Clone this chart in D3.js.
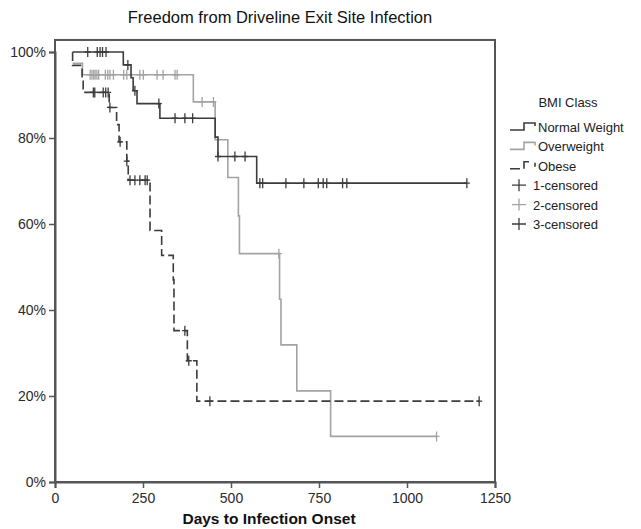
<!DOCTYPE html>
<html lang="en">
<head>
<meta charset="UTF-8">
<title>Freedom from Driveline Exit Site Infection</title>
<style>
  body { margin: 0; background: #fff; }
  svg { font-family: "Liberation Sans", Arial, sans-serif; }
</style>
</head>
<body>
<script src="https://d3js.org/d3.v7.min.js"></script>
<script>
    // Kaplan-Meier curves, values (days, % free of infection)
    var groups = ["Normal Weight", "Overweight", "Obese"];

    var normalDays = [50, 194, 216, 222, 233, 298, 455, 463, 573];
    var normalSurv = [100, 97, 94, 91, 88, 84.6, 80.2, 75.7, 69.5];
    var normalEnd = 1170;
    var normalCensor = [93, 120, 128, 135, 145, 207, 227, 295, 341, 369, 391, 463, 511, 540,
                        582, 590, 656, 707, 748, 762, 772, 817, 829, 1170];

    var overDays = [50, 78, 393, 455, 491, 521, 524, 638, 642, 687, 783];
    var overSurv = [97.4, 94.7, 88.4, 79.6, 70.8, 61.9, 53.1, 42.5, 31.9, 21.2, 10.6];
    var overEnd = 1084;
    var overCensor = [100, 105, 110, 114, 119, 124, 143, 150, 156, 166, 195, 204, 241, 251,
                      290, 307, 341, 347, 418, 450, 636, 1084];

    var obeseDays = [50, 50, 77, 80, 154, 175, 182, 204, 208, 270, 303, 336, 338, 376, 403];
    var obeseSurv = [100, 96.9, 93.8, 90.6, 87.1, 83.1, 79.1, 74.6, 70.2, 58.5, 52.7, 47.0, 35.2, 28.2, 18.8];
    var obeseEnd = 1205;
    var obeseCensor = [109, 113, 137, 144, 151, 156, 185, 204, 213, 227, 241, 256, 262, 369, 380, 440, 1205];

    var xTicks = [0, 250, 500, 750, 1000, 1250];
    var yTicks = [0, 20, 40, 60, 80, 100];
    var legendItems = ["Normal Weight", "Overweight", "Obese", "1-censored", "2-censored", "3-censored"];

    var width = 641,
        height = 529;

    var dark = "#3c3c3c", light = "#a3a3a3", frame = "#555";

    var series = [
        {name: groups[0], days: normalDays, surv: normalSurv, end: normalEnd, censor: normalCensor, color: dark, dash: null},
        {name: groups[1], days: overDays, surv: overSurv, end: overEnd, censor: overCensor, color: light, dash: null},
        {name: groups[2], days: obeseDays, surv: obeseSurv, end: obeseEnd, censor: obeseCensor, color: dark, dash: "9,4"}
    ];

    var svg = d3.select("body").append("svg")
        .attr("width", width)
        .attr("height", height);

    var x = d3.scaleLinear().domain([0, 1250]).range([55, 495]);
    var y = d3.scaleLinear().domain([0, 100]).range([482, 52]);
    var yTop = y(102.8);

    // frame
    svg.append("rect")
        .attr("x", x(0)).attr("y", yTop)
        .attr("width", x(1250) - x(0)).attr("height", y(0) - yTop)
        .attr("fill", "none").attr("stroke", frame).attr("stroke-width", 2);

    var yAxis = svg.append("g")
        .attr("transform", "translate(" + x(0) + ",0)")
        .call(d3.axisLeft(y).tickValues(yTicks).tickSize(6).tickFormat(function(d){ return d + "%"; }));
    var xAxis = svg.append("g")
        .attr("transform", "translate(0," + y(0) + ")")
        .call(d3.axisBottom(x).tickValues(xTicks).tickSize(6).tickFormat(d3.format("d")));

    [yAxis, xAxis].forEach(function(a){
        a.select(".domain").attr("stroke", frame).attr("stroke-width", 2);
        a.selectAll(".tick line").attr("stroke", frame).attr("stroke-width", 1.5);
        a.selectAll(".tick text").attr("fill", "#2a2a2a").style("font-size", "14px")
            .style("font-family", "'Liberation Sans', Arial, sans-serif");
    });
    xAxis.selectAll(".tick text").attr("dy", "0.85em");

    // step curves
    var line = d3.line()
        .x(function(d){ return x(d[0]); })
        .y(function(d){ return y(d[1]); })
        .curve(d3.curveStepAfter);

    function survAt(s, t) {
        var v = s.surv[0];
        for (var i = 0; i < s.days.length; i++) {
            if (s.days[i] <= t) v = s.surv[i];
        }
        return v;
    }

    // draw overweight first so the dark curves sit on top
    [series[1], series[0], series[2]].forEach(function(s){
        var pts = s.days.map(function(d, i){ return [d, s.surv[i]]; });
        pts.push([s.end, s.surv[s.surv.length - 1]]);
        svg.append("path")
            .datum(pts)
            .attr("d", line)
            .attr("fill", "none")
            .attr("stroke", s.color)
            .attr("stroke-width", 1.6)
            .attr("stroke-dasharray", s.dash);

        svg.append("g").selectAll("path")
            .data(s.censor)
            .enter().append("path")
            .attr("d", function(t){
                var cx = x(t), cy = y(survAt(s, t));
                return "M" + cx + "," + (cy - 5) + "V" + (cy + 5) + "M" + (cx - 3) + "," + cy + "H" + (cx + 3);
            })
            .attr("stroke", s.color)
            .attr("stroke-width", 1.3)
            .attr("fill", "none");
    });

    // titles
    svg.append("text")
        .attr("x", 280).attr("y", 23)
        .attr("text-anchor", "middle")
        .style("font-size", "16.5px").attr("fill", "#111")
        .text("Freedom from Driveline Exit Site Infection");

    svg.append("text")
        .attr("x", 269).attr("y", 524)
        .attr("text-anchor", "middle")
        .style("font-size", "15.5px").style("font-weight", "bold").attr("fill", "#111")
        .text("Days to Infection Onset");

    // legend
    var lg = svg.append("g").attr("transform", "translate(508,0)");
    lg.append("text")
        .attr("x", 60).attr("y", 107)
        .attr("text-anchor", "middle")
        .style("font-size", "13px").attr("fill", "#222")
        .text("BMI Class");

    var legY = d3.scalePoint().domain(legendItems).range([127, 224]);

    legendItems.forEach(function(name, i){
        var cy = legY(name);
        var s = series[i % 3];
        if (i < 3) {
            if (i < 2) {
                lg.append("path")
                    .attr("d", "M2," + (cy + 3) + "H16V" + (cy - 4) + "H27V" + (cy - 1))
                    .attr("fill", "none").attr("stroke", s.color).attr("stroke-width", 1.6);
            } else {
                lg.append("path")
                    .attr("d", "M2," + (cy + 3) + "H12M16," + (cy + 3) + "V" + (cy - 4) + "H21M27," + (cy - 3) + "V" + (cy + 1))
                    .attr("fill", "none").attr("stroke", s.color).attr("stroke-width", 1.6);
            }
        } else {
            lg.append("path")
                .attr("d", "M11," + (cy - 6) + "V" + (cy + 6) + "M4," + cy + "H18")
                .attr("fill", "none").attr("stroke", s.color).attr("stroke-width", 1.3);
        }
        lg.append("text")
            .attr("x", i < 3 ? 30 : 25).attr("y", cy + 5)
            .style("font-size", "13px").attr("fill", "#222")
            .text(name);
    });
</script>
</body>
</html>
